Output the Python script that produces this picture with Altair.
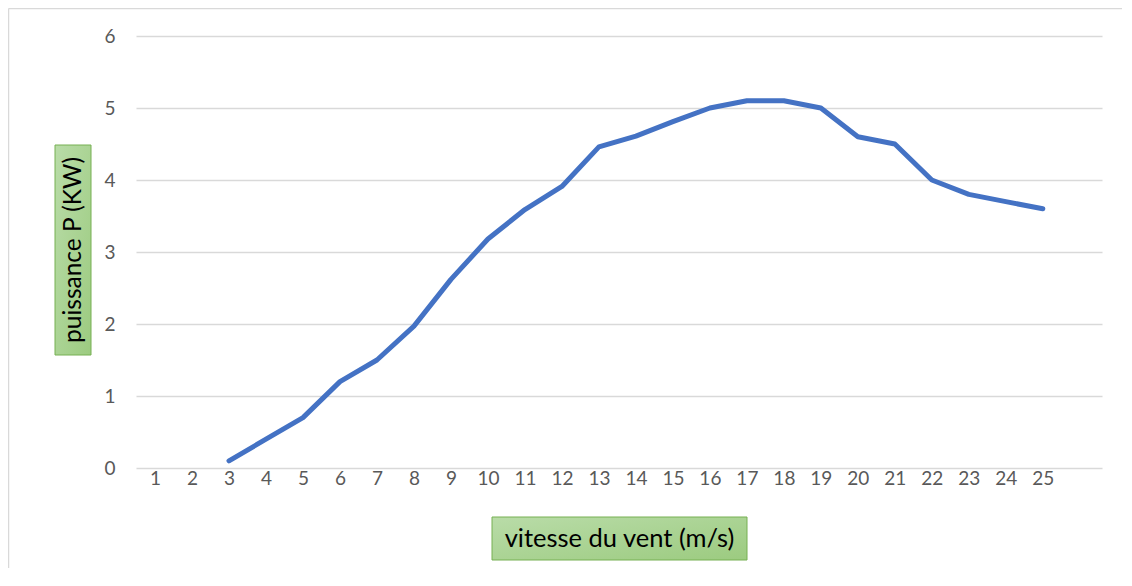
import altair as alt
import pandas as pd

# Data
vitesse = [3, 4, 5, 6, 7, 8, 9, 10, 11, 12, 13, 14, 15, 16, 17, 18, 19, 20, 21, 22, 23, 24, 25]
puissance = [0.1, 0.4, 0.7, 1.2, 1.5, 1.97, 2.62, 3.18, 3.59, 3.91, 4.46, 4.61, 4.81, 5.0, 5.1, 5.1, 5.0, 4.6, 4.5, 4.0, 3.8, 3.7, 3.6]
x_ticks = list(range(1, 26))
y_ticks = [0, 1, 2, 3, 4, 5, 6]
x_title = "vitesse du vent (m/s)"
y_title = "puissance P (KW)"

df = pd.DataFrame({"v": vitesse, "p": puissance})

FONT = "Lato"
W, H = 966, 432

green = alt.Gradient(
    gradient="linear",
    stops=[alt.GradientStop(color="#b9dca8", offset=0),
           alt.GradientStop(color="#9ccb80", offset=1)],
    x1=0, x2=1, y1=0, y2=1,
)

line = alt.Chart(df).mark_line(color="#4472C4", strokeWidth=5, strokeCap="round", strokeJoin="round").encode(
    x=alt.X("v:Q", scale=alt.Scale(domain=[0.486, 26.6], nice=False, zero=False),
            axis=alt.Axis(values=x_ticks, grid=False, ticks=False, domain=False, title=None,
                          labelFont=FONT, labelFontSize=19, labelColor="#595959", labelPadding=1,
                          labelFlush=False, labelOverlap=False, format="d")),
    y=alt.Y("p:Q", scale=alt.Scale(domain=[0, 6], nice=False),
            axis=alt.Axis(values=y_ticks, grid=True, gridColor="#d9d9d9", gridWidth=1.5,
                          ticks=False, domain=False, title=None,
                          labelFont=FONT, labelFontSize=19, labelColor="#595959", labelPadding=21,
                          format="d")),
)

base = alt.Chart(pd.DataFrame({"a": [0]}))

# Axis-title boxes (green, Excel style)
ybox = base.mark_rect(color=green, stroke="#76b052", strokeWidth=1).encode(
    x=alt.value(-81), x2=alt.value(-45), y=alt.value(109), y2=alt.value(319))
ytext = base.mark_text(text=y_title, angle=270, font=FONT, fontSize=24.5, color="#000000",
                       align="center", baseline="middle").encode(
    x=alt.value(-62), y=alt.value(214))

xbox = base.mark_rect(color=green, stroke="#76b052", strokeWidth=1).encode(
    x=alt.value(356), x2=alt.value(611), y=alt.value(481), y2=alt.value(524))
xtext = base.mark_text(text=x_title, font=FONT, fontSize=25.5, color="#000000",
                       align="center", baseline="middle").encode(
    x=alt.value(483.5), y=alt.value(503))

# Chart frame (light gray border, top and left)
frame_top = base.mark_rule(color="#d9d9d9", strokeWidth=1.5).encode(
    x=alt.value(-127.5), x2=alt.value(W + 20), y=alt.value(-27.5))
frame_left = base.mark_rule(color="#d9d9d9", strokeWidth=1.5).encode(
    x=alt.value(-127.5), y=alt.value(-27.5), y2=alt.value(H + 100))

chart = alt.layer(line, ybox, ytext, xbox, xtext, frame_top, frame_left).properties(
    width=W, height=H,
    autosize=alt.AutoSizeParams(type="none"),
    padding={"left": 128, "top": 28, "right": 20, "bottom": 100},
    background="white",
).configure_view(stroke=None)

chart.save("out.html", embed_options={"renderer": "svg", "actions": False})
